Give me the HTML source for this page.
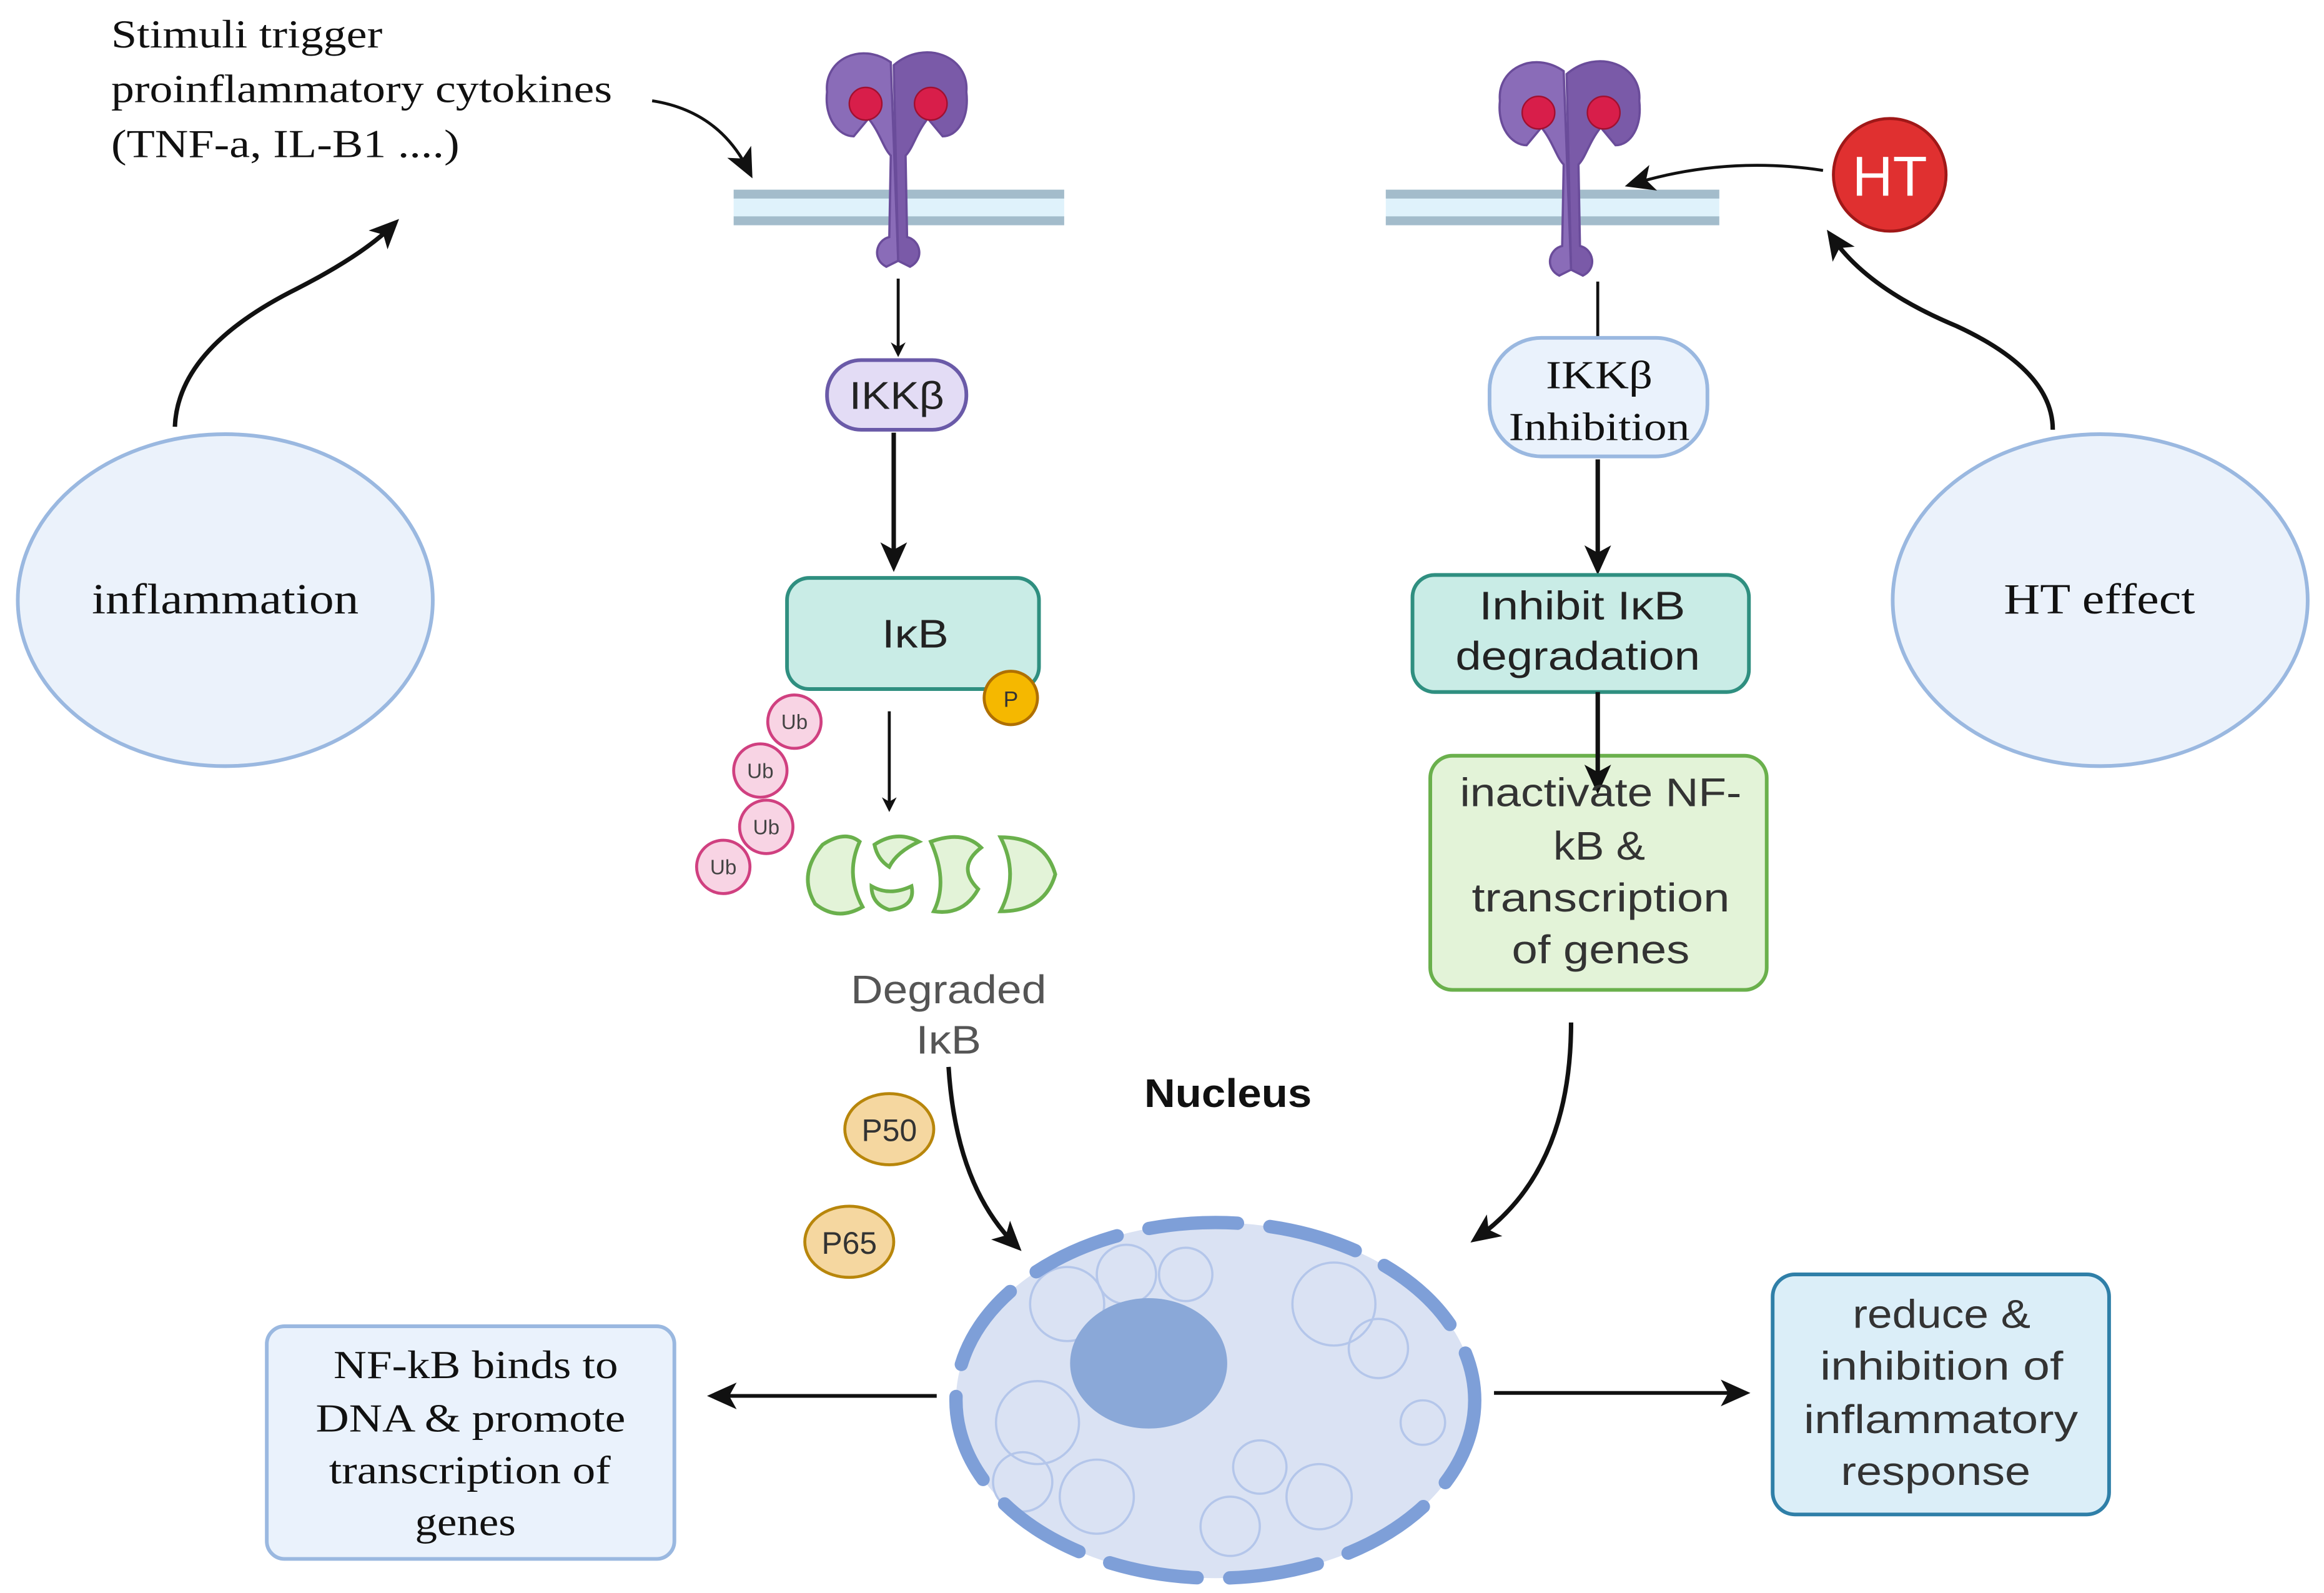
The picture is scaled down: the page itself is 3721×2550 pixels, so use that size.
<!DOCTYPE html>
<html><head><meta charset="utf-8"><style>html,body{margin:0;padding:0;background:#fff}svg{display:block}</style></head><body>
<svg width="3721" height="2550" viewBox="0 0 1568 1075" preserveAspectRatio="none" xmlns="http://www.w3.org/2000/svg">
<defs>
<marker id="ah" markerWidth="10" markerHeight="10" refX="7" refY="5" orient="auto" markerUnits="userSpaceOnUse" viewBox="0 0 10 10"><path d="M0,0 L10,5 L0,10 L3,5 z" fill="#111"/></marker>
<marker id="ahb" markerWidth="20" markerHeight="20" refX="14" refY="10" orient="auto" markerUnits="userSpaceOnUse" viewBox="0 0 20 20"><path d="M0,1 L20,10 L0,19 L5,10 z" fill="#111"/></marker>
<g id="rec">
<path d="M-5,-58 C-25,-72 -50,-60 -48,-38 C-50,-20 -40,-8 -30,-8 L-20,-20 C-12,-10 -10,0 -5,5 L-6,60 C-15,62 -18,75 -8,80 L0,76 Z" fill="#8a6cb8" stroke="#6a4c9a" stroke-width="1.5"/>
<path d="M-3,-56 C18,-74 48,-62 46,-38 C48,-20 40,-8 30,-8 L20,-20 C12,-10 10,0 5,5 L6,60 C15,62 18,75 8,80 L0,76 Z" fill="#7a5aa8" stroke="#6a4c9a" stroke-width="1.5"/>
<circle cx="-22" cy="-30" r="11" fill="#d81e4a" stroke="#a01030"/>
<circle cx="22" cy="-30" r="11" fill="#d81e4a" stroke="#a01030"/>
</g>
</defs>
<g font-family="Liberation Serif, serif" font-size="27" fill="#111" lengthAdjust="spacingAndGlyphs">
<text x="75" y="32" textLength="183" lengthAdjust="spacingAndGlyphs">Stimuli trigger</text>
<text x="75" y="69" textLength="338" lengthAdjust="spacingAndGlyphs">proinflammatory cytokines</text>
<text x="75" y="106" textLength="235" lengthAdjust="spacingAndGlyphs">(TNF-a, IL-B1 ....)</text>
</g>
<path d="M440,68 Q485,75 505,115" fill="none" stroke="#111" stroke-width="2" marker-end="url(#ahb)"/>
<rect x="495" y="128" width="223" height="24" fill="#dff2fb"/>
<rect x="495" y="128" width="223" height="6" fill="#a3bccb"/>
<rect x="495" y="146" width="223" height="6" fill="#a3bccb"/>
<rect x="935" y="128" width="225" height="24" fill="#dff2fb"/>
<rect x="935" y="128" width="225" height="6" fill="#a3bccb"/>
<rect x="935" y="146" width="225" height="6" fill="#a3bccb"/>
<use href="#rec" x="606" y="100"/>
<use href="#rec" x="1060" y="106"/>
<line x1="606" y1="188" x2="606" y2="238" stroke="#111" stroke-width="2" marker-end="url(#ah)"/>
<rect x="558" y="243" width="94" height="47" rx="23" fill="#e3dcf5" stroke="#6a5aa8" stroke-width="2.5"/>
<text x="573" y="276" textLength="64" lengthAdjust="spacingAndGlyphs" font-family="Liberation Sans, sans-serif" font-size="26" fill="#222">IKKβ</text>
<line x1="603" y1="292" x2="603" y2="380" stroke="#111" stroke-width="3" marker-end="url(#ahb)"/>
<rect x="531" y="390" width="170" height="75" rx="15" fill="#c9ece6" stroke="#2f8f80" stroke-width="2.5"/>
<text x="595" y="437" textLength="45" lengthAdjust="spacingAndGlyphs" font-family="Liberation Sans, sans-serif" font-size="27" fill="#222">IκB</text>
<circle cx="682" cy="471" r="18" fill="#f5b800" stroke="#b07000" stroke-width="2"/>
<text x="682" y="477" text-anchor="middle" font-family="Liberation Sans, sans-serif" font-size="15" fill="#333">P</text>
<line x1="600" y1="480" x2="600" y2="545" stroke="#111" stroke-width="2" marker-end="url(#ah)"/>
<g fill="#f8d4e4" stroke="#d04080" stroke-width="2">
<circle cx="536" cy="487" r="18"/><circle cx="513" cy="520" r="18"/><circle cx="517" cy="558" r="18"/><circle cx="488" cy="585" r="18"/>
</g>
<g font-family="Liberation Sans, sans-serif" font-size="14" fill="#444" text-anchor="middle">
<text x="536" y="492">Ub</text><text x="513" y="525">Ub</text><text x="517" y="563">Ub</text><text x="488" y="590">Ub</text>
</g>
<g fill="#e3f3d8" stroke="#6ab04c" stroke-width="2.5">
<path d="M555,570 Q570,560 580,568 Q570,590 582,612 Q565,622 550,610 Q538,590 555,570 Z"/>
<path d="M590,570 Q605,560 620,568 Q605,575 600,585 Q592,580 590,570 Z M588,598 Q600,605 615,598 Q618,612 600,614 Q588,610 588,598 Z"/>
<path d="M628,568 Q650,560 662,572 Q645,585 660,600 Q650,618 630,615 Q640,595 628,568 Z"/>
<path d="M675,565 Q705,565 712,590 Q705,615 675,615 Q688,590 675,565 Z"/>
</g>
<g font-family="Liberation Sans, sans-serif" font-size="27" fill="#555">
<text x="574" y="677" textLength="132" lengthAdjust="spacingAndGlyphs">Degraded</text><text x="618" y="711" textLength="44" lengthAdjust="spacingAndGlyphs">IκB</text>
</g>
<ellipse cx="600" cy="762" rx="30" ry="24" fill="#f5d7a0" stroke="#b8860b" stroke-width="2"/>
<text x="600" y="770" text-anchor="middle" font-family="Liberation Sans, sans-serif" font-size="21" fill="#333">P50</text>
<ellipse cx="573" cy="838" rx="30" ry="24" fill="#f5d7a0" stroke="#b8860b" stroke-width="2"/>
<text x="573" y="846" text-anchor="middle" font-family="Liberation Sans, sans-serif" font-size="21" fill="#333">P65</text>
<text x="772" y="747" textLength="113" lengthAdjust="spacingAndGlyphs" font-family="Liberation Sans, sans-serif" font-size="27" font-weight="bold" fill="#111">Nucleus</text>
<path d="M640,720 Q645,800 685,840" fill="none" stroke="#111" stroke-width="3" marker-end="url(#ahb)"/>
<ellipse cx="820" cy="945" rx="175" ry="120" fill="#dae2f3"/>
<g fill="none" stroke="#b4c6ea" stroke-width="1.5">
<circle cx="720" cy="880" r="25"/><circle cx="760" cy="860" r="20"/><circle cx="700" cy="960" r="28"/><circle cx="740" cy="1010" r="25"/>
<circle cx="900" cy="880" r="28"/><circle cx="930" cy="910" r="20"/><circle cx="890" cy="1010" r="22"/><circle cx="830" cy="1030" r="20"/>
<circle cx="800" cy="860" r="18"/><circle cx="690" cy="1000" r="20"/><circle cx="960" cy="960" r="15"/><circle cx="850" cy="990" r="18"/>
</g>
<ellipse cx="820" cy="945" rx="175" ry="120" fill="none" stroke="#7e9fd8" stroke-width="9" stroke-dasharray="60 22" stroke-linecap="round"/>
<ellipse cx="775" cy="920" rx="53" ry="44" fill="#8aa8d8"/>
<line x1="632" y1="942" x2="483" y2="942" stroke="#111" stroke-width="2.5" marker-end="url(#ahb)"/>
<rect x="180" y="895" width="275" height="157" rx="12" fill="#eaf2fc" stroke="#9ab8e0" stroke-width="2.5"/>
<g font-family="Liberation Serif, serif" font-size="27" fill="#111">
<text x="225" y="930" textLength="192" lengthAdjust="spacingAndGlyphs">NF-kB binds to</text>
<text x="213" y="966" textLength="209" lengthAdjust="spacingAndGlyphs">DNA &amp; promote</text>
<text x="222" y="1001" textLength="190" lengthAdjust="spacingAndGlyphs">transcription of</text>
<text x="280" y="1036" textLength="68" lengthAdjust="spacingAndGlyphs">genes</text>
</g>
<line x1="1008" y1="940" x2="1175" y2="940" stroke="#111" stroke-width="2.5" marker-end="url(#ahb)"/>
<rect x="1196" y="860" width="227" height="162" rx="15" fill="#dbeef8" stroke="#2f7fa8" stroke-width="2.5"/>
<g font-family="Liberation Sans, sans-serif" font-size="27" fill="#333">
<text x="1250" y="896" textLength="120" lengthAdjust="spacingAndGlyphs">reduce &amp;</text>
<text x="1228" y="931" textLength="164" lengthAdjust="spacingAndGlyphs">inhibition of</text>
<text x="1217" y="967" textLength="185" lengthAdjust="spacingAndGlyphs">inflammatory</text>
<text x="1242" y="1002" textLength="128" lengthAdjust="spacingAndGlyphs">response</text>
</g>
<ellipse cx="152" cy="405" rx="140" ry="112" fill="#ebf2fb" stroke="#9ab8e0" stroke-width="2.5"/>
<text x="62" y="414" textLength="180" lengthAdjust="spacingAndGlyphs" font-family="Liberation Serif, serif" font-size="29" fill="#111">inflammation</text>
<path d="M118,288 Q120,235 200,195 Q245,172 265,152" fill="none" stroke="#111" stroke-width="3" marker-end="url(#ahb)"/>
<ellipse cx="1417" cy="405" rx="140" ry="112" fill="#ebf2fb" stroke="#9ab8e0" stroke-width="2.5"/>
<text x="1352" y="414" textLength="129" lengthAdjust="spacingAndGlyphs" font-family="Liberation Serif, serif" font-size="29" fill="#111">HT effect</text>
<path d="M1385,290 Q1385,250 1320,220 Q1260,195 1236,160" fill="none" stroke="#111" stroke-width="3" marker-end="url(#ahb)"/>
<circle cx="1275" cy="118" r="38" fill="#e03030" stroke="#a01818" stroke-width="2"/>
<text x="1275" y="132" text-anchor="middle" font-family="Liberation Sans, sans-serif" font-size="38" fill="#fff">HT</text>
<path d="M1230,115 Q1165,105 1102,124" fill="none" stroke="#111" stroke-width="2" marker-end="url(#ahb)"/>
<line x1="1078" y1="190" x2="1078" y2="230" stroke="#111" stroke-width="2"/>
<rect x="1005" y="228" width="147" height="80" rx="35" fill="#eaf2fc" stroke="#9ab8e0" stroke-width="2.5"/>
<g font-family="Liberation Serif, serif" font-size="27" fill="#111">
<text x="1043" y="262" textLength="72" lengthAdjust="spacingAndGlyphs">IKKβ</text>
<text x="1018" y="297" textLength="122" lengthAdjust="spacingAndGlyphs">Inhibition</text>
</g>
<line x1="1078" y1="310" x2="1078" y2="382" stroke="#111" stroke-width="3" marker-end="url(#ahb)"/>
<rect x="953" y="388" width="227" height="79" rx="15" fill="#c9ece6" stroke="#2f8f80" stroke-width="2.5"/>
<g font-family="Liberation Sans, sans-serif" font-size="27" fill="#222">
<text x="998" y="418" textLength="139" lengthAdjust="spacingAndGlyphs">Inhibit IκB</text>
<text x="982" y="452" textLength="165" lengthAdjust="spacingAndGlyphs">degradation</text>
</g>
<rect x="965" y="510" width="227" height="158" rx="15" fill="#e3f3d8" stroke="#6ab04c" stroke-width="2.5"/>
<line x1="1078" y1="467" x2="1078" y2="530" stroke="#111" stroke-width="3" marker-end="url(#ahb)"/>
<g font-family="Liberation Sans, sans-serif" font-size="27" fill="#333">
<text x="985" y="544" textLength="190" lengthAdjust="spacingAndGlyphs">inactivate NF-</text>
<text x="1048" y="580" textLength="62" lengthAdjust="spacingAndGlyphs">kB &amp;</text>
<text x="993" y="615" textLength="174" lengthAdjust="spacingAndGlyphs">transcription</text>
<text x="1020" y="650" textLength="120" lengthAdjust="spacingAndGlyphs">of genes</text>
</g>
<path d="M1060,690 Q1060,790 997,835" fill="none" stroke="#111" stroke-width="3" marker-end="url(#ahb)"/>
</svg>
</body></html>
